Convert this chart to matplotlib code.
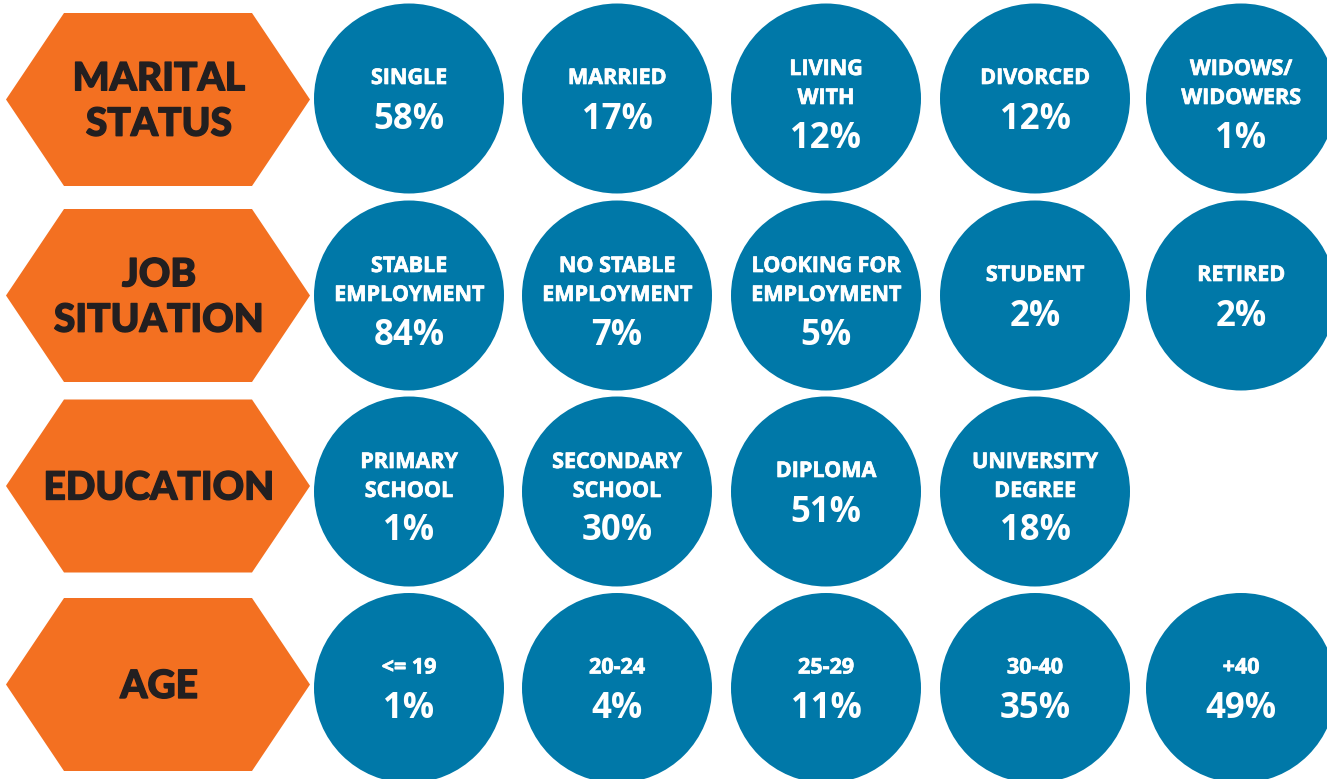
import matplotlib.pyplot as plt
import matplotlib.patheffects as pe
from matplotlib.patches import Polygon, Circle

# Row titles (orange hexagons)
group_titles = ["MARITAL\nSTATUS", "JOB\nSITUATION", "EDUCATION", "AGE"]

# Categories and shares (%) per row
marital_labels = ["SINGLE", "MARRIED", "LIVING\nWITH", "DIVORCED", "WIDOWS/\nWIDOWERS"]
marital_pct = [58, 17, 12, 12, 1]

job_labels = ["STABLE\nEMPLOYMENT", "NO STABLE\nEMPLOYMENT", "LOOKING FOR\nEMPLOYMENT", "STUDENT", "RETIRED"]
job_pct = [84, 7, 5, 2, 2]

edu_labels = ["PRIMARY\nSCHOOL", "SECONDARY\nSCHOOL", "DIPLOMA", "UNIVERSITY\nDEGREE"]
edu_pct = [1, 30, 51, 18]

age_labels = ["<= 19", "20-24", "25-29", "30-40", "+40"]
age_pct = [1, 4, 11, 35, 49]

rows = [
    (marital_labels, marital_pct),
    (job_labels, job_pct),
    (edu_labels, edu_pct),
    (age_labels, age_pct),
]

orange = "#f37021"
blue = "#0078a8"
dark = "#231f20"

# layout in pixels
hex_cy = [99.5, 295.5, 486, 684.5]
circ_cy = [98.5, 295.5, 491.5, 688]
circ_cx = [409, 617, 826, 1035, 1241]
r = 95

fig = plt.figure(figsize=(13.27, 7.79), dpi=100)
ax = fig.add_axes([0, 0, 1, 1])
ax.set_xlim(0, 1327)
ax.set_ylim(779, 0)
ax.set_aspect("equal")
ax.axis("off")

heavy = [pe.withStroke(linewidth=1.0, foreground=dark)]
semi = [pe.withStroke(linewidth=0.5, foreground="white")]

for i, title in enumerate(group_titles):
    cy = hex_cy[i]
    h = 86.5
    pts = [(6, cy), (64, cy - h), (252, cy - h), (310, cy), (252, cy + h), (64, cy + h)]
    ax.add_patch(Polygon(pts, closed=True, facecolor=orange, edgecolor="none"))
    ax.text(159, cy + 2, title, ha="center", va="center", fontsize=28,
            fontweight="black", family="Lato", color=dark, linespacing=1.28,
            path_effects=heavy)

    labels, pcts = rows[i]
    for j, (lab, p) in enumerate(zip(labels, pcts)):
        cx = circ_cx[j]
        cy2 = circ_cy[i]
        ax.add_patch(Circle((cx, cy2), r, facecolor=blue, edgecolor="none"))
        lines = lab.split("\n")
        if len(lines) == 1:
            ys = [cy2 - 20]
            py = cy2 + 21
        else:
            ys = [cy2 - 29, cy2]
            py = cy2 + 40
        for ln, y in zip(lines, ys):
            ax.text(cx, y, ln, ha="center", va="center", fontsize=15.5,
                    fontweight="bold", family="Open Sans", color="white",
                    path_effects=semi)
        ax.text(cx, py, f"{p}%", ha="center", va="center", fontsize=25,
                fontweight="bold", family="Open Sans", color="white")

fig.savefig("out.png", dpi=100)
